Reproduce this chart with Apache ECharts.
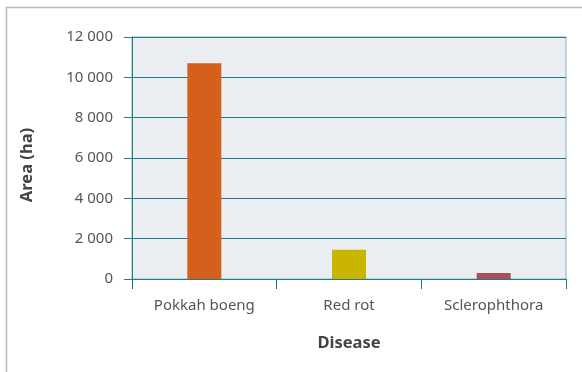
<!DOCTYPE html>
<html>
<head>
<meta charset="utf-8">
<script src="https://cdn.jsdelivr.net/npm/echarts@6/dist/echarts.min.js"></script>
<style>
html,body{margin:0;padding:0;background:#fff;}
#c{width:582px;height:372px;}
</style>
</head>
<body>
<div id="c"></div>
<script>
var categories = ["Pokkah boeng", "Red rot", "Sclerophthora"];
var areaValues = [10700, 1450, 300];
var barColors = ["#d5601c", "#c9b400", "#a84f5e"];
var yTicks = [0, 2000, 4000, 6000, 8000, 10000, 12000];

var teal = "#1f7d8b";
var font = "Noto Sans";
var chart = echarts.init(document.getElementById('c'));
chart.setOption({
  animation: false,
  graphic: [
    {type: 'line', shape: {x1: 6, y1: 7.5, x2: 582, y2: 7.5}, style: {stroke: '#bbbbbb', lineWidth: 1.5}},
    {type: 'line', shape: {x1: 6.5, y1: 7, x2: 6.5, y2: 372}, style: {stroke: '#bbbbbb', lineWidth: 1.5}}
  ],
  grid: {left: 132, right: 16, top: 37, bottom: 93, show: true, backgroundColor: '#eaeef1', borderColor: '#7cb6c0', borderWidth: 1},
  xAxis: {
    type: 'category',
    data: categories,
    name: 'Disease',
    nameLocation: 'middle',
    nameGap: 56,
    nameTextStyle: {fontFamily: font, fontWeight: 'bold', fontSize: 16.5, color: '#444'},
    axisLine: {lineStyle: {color: teal, width: 1}},
    axisTick: {show: true, length: 10, lineStyle: {color: teal}},
    axisLabel: {fontFamily: font, fontSize: 15, color: '#555', margin: 19}
  },
  yAxis: {
    type: 'value',
    min: yTicks[0],
    max: yTicks[yTicks.length - 1],
    interval: 2000,
    name: 'Area (ha)',
    nameLocation: 'middle',
    nameGap: 96,
    nameTextStyle: {fontFamily: font, fontWeight: 'bold', fontSize: 16.5, color: '#444', padding: [0, 14, 0, 0]},
    axisLine: {show: true, lineStyle: {color: teal, width: 1}},
    axisTick: {show: true, length: 8, lineStyle: {color: teal}},
    splitLine: {show: true, lineStyle: {color: teal, width: 1}},
    axisLabel: {
      fontFamily: font, fontSize: 15, color: '#555', margin: 19,
      formatter: function (v) { return String(v).replace(/\B(?=(\d{3})+(?!\d))/g, ' '); }
    }
  },
  series: [{
    type: 'bar',
    barWidth: 34,
    data: areaValues.map(function (v, i) { return {value: v, itemStyle: {color: barColors[i]}}; })
  }]
});
</script>
</body>
</html>
